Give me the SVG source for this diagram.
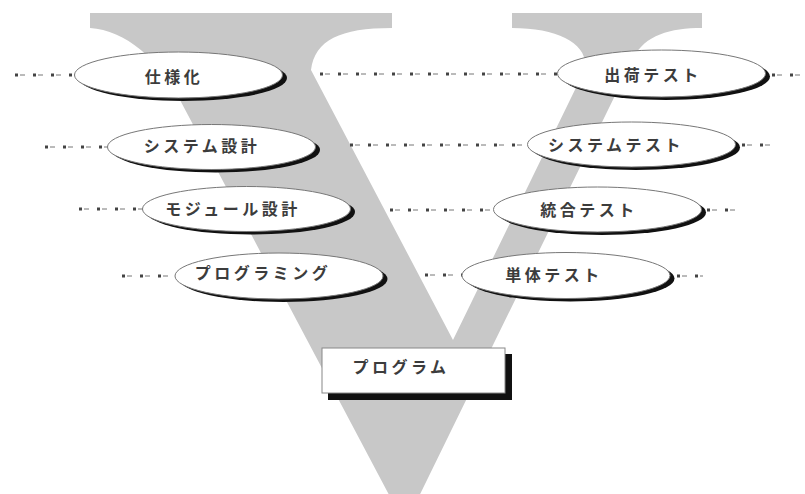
<svg xmlns="http://www.w3.org/2000/svg" width="805" height="494" viewBox="0 0 805 494">
<style>
.sh{fill:#111}
.el{fill:#fff;stroke:#777;stroke-width:1}
.t{font-family:"Noto Sans CJK JP","Noto Sans",sans-serif;font-weight:bold;font-size:16px;letter-spacing:3.5px;fill:#3c3c3c;text-anchor:middle}
.cl{stroke:#777;stroke-width:1;stroke-dasharray:5 13;stroke-dashoffset:-7;fill:none}
.cd{stroke:#444;stroke-width:3;stroke-dasharray:3 15;fill:none}
</style>
<rect width="805" height="494" fill="#fff"/>
<path id="v" fill="#c8c8c8" d="M90,13 L392,13 L392,28 C340,28 315,40 311,70 L453,340 L584.6,70 C590,45 560,28 512,28 L512,13 L702,13 L702,28 C670,28 645,35 633.4,58 L405,525 L180,100 C160,60 125,30 90,28 Z"/>
<g id="connectors">
<path class="cl" d="M13,75H75M43,147H108M77,209H143M120,276H175M318,74H558M348,145H528M388,210H494M423,275H462M770,75H805M740,145H773M705,210H742M675,276H703"/>
<path class="cd" d="M15,75H75M45,147H108M79,209H143M122,276H175M320,74H558M350,145H528M390,210H494M425,275H462M772,75H805M742,145H773M707,210H742M677,276H703"/>
</g>
<g id="n1"><ellipse class="sh" cx="183" cy="78" rx="104" ry="23"/><ellipse class="el" cx="178.5" cy="75" rx="104" ry="23"/><text class="t" x="174" y="83">仕様化</text></g>
<g id="n2"><ellipse class="sh" cx="216" cy="150" rx="104" ry="22.5"/><ellipse class="el" cx="211.5" cy="147" rx="104" ry="22.5"/><text class="t" x="202" y="152">システム設計</text></g>
<g id="n3"><ellipse class="sh" cx="251" cy="212" rx="104" ry="22.5"/><ellipse class="el" cx="246.5" cy="209" rx="104" ry="22.5"/><text class="t" x="233" y="215">モジュール設計</text></g>
<g id="n4"><ellipse class="sh" cx="283.5" cy="279" rx="104" ry="23"/><ellipse class="el" cx="279" cy="276" rx="104" ry="23"/><text class="t" x="263" y="279">プログラミング</text></g>
<g id="n5"><ellipse class="sh" cx="666" cy="76.5" rx="104" ry="23.5"/><ellipse class="el" cx="661.5" cy="73.5" rx="104" ry="23.5"/><text class="t" x="653" y="81">出荷テスト</text></g>
<g id="n6"><ellipse class="sh" cx="636" cy="147.5" rx="104" ry="22.5"/><ellipse class="el" cx="631.5" cy="144.5" rx="104" ry="22.5"/><text class="t" x="616" y="151">システムテスト</text></g>
<g id="n7"><ellipse class="sh" cx="602" cy="212.5" rx="104" ry="22.5"/><ellipse class="el" cx="597.5" cy="209.5" rx="104" ry="22.5"/><text class="t" x="589" y="216">統合テスト</text></g>
<g id="n8"><ellipse class="sh" cx="570.5" cy="278.5" rx="104" ry="23"/><ellipse class="el" cx="566" cy="275.5" rx="104" ry="23"/><text class="t" x="554" y="281">単体テスト</text></g>
<g id="n9"><rect class="sh" x="328" y="354" width="184" height="46"/><rect x="322" y="348" width="183" height="45" fill="#fff" stroke="#888" stroke-width="1"/><text class="t" x="401" y="373">プログラム</text></g>
</svg>
